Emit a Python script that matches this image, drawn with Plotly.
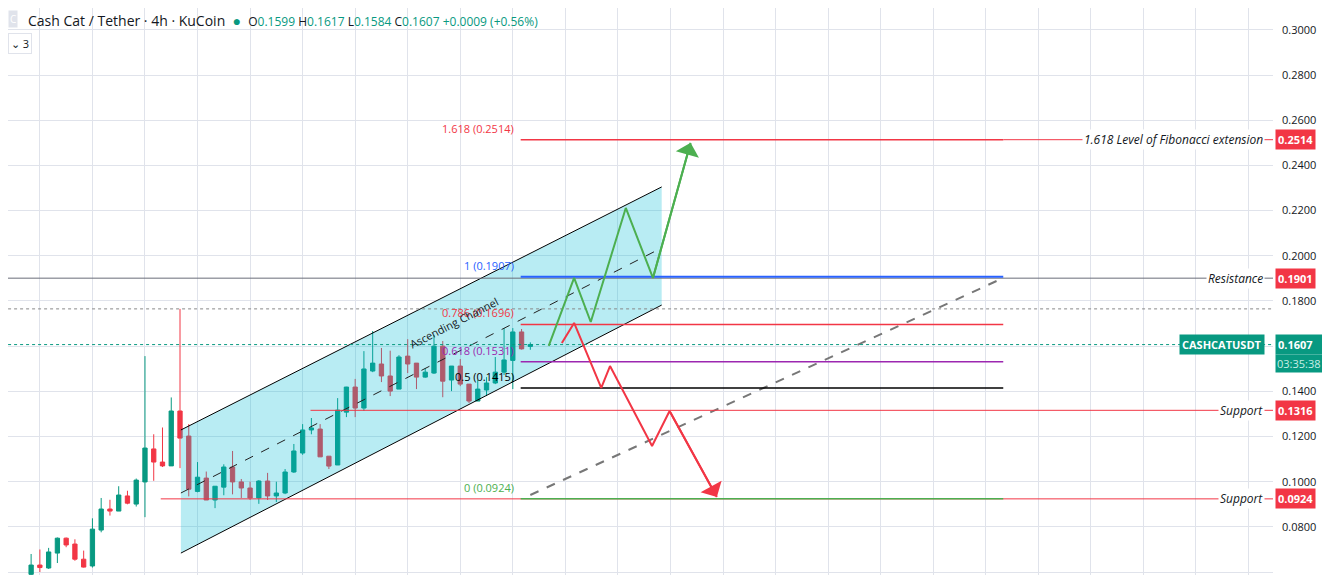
import plotly.graph_objects as go

# candle data (4h bars)
opens = [0.0590, 0.0631, 0.0618, 0.0684, 0.0750, 0.0724, 0.0657, 0.0627, 0.0786, 0.0879,
         0.0870, 0.0937, 0.0901, 0.0999, 0.1145, 0.1087, 0.1070, 0.1313, 0.1202, 0.0957,
         0.1016, 0.0919, 0.0976, 0.1065, 0.0999, 0.0972, 0.0928, 0.1003, 0.0937, 0.0950,
         0.1043, 0.1127, 0.1229, 0.1233, 0.1113, 0.1074, 0.1308, 0.1419, 0.1326, 0.1490,
         0.1521, 0.1468, 0.1410, 0.1556, 0.1525, 0.1463, 0.1481, 0.1600, 0.1450, 0.1512,
         0.1432, 0.1357, 0.1406, 0.1437, 0.1485, 0.1537, 0.1663, 0.1599]
highs = [0.0680, 0.0700, 0.0707, 0.0753, 0.0753, 0.0745, 0.0695, 0.0838, 0.0928, 0.0920,
         0.0980, 0.0960, 0.1014, 0.1556, 0.1210, 0.1240, 0.1373, 0.1765, 0.1255, 0.1087,
         0.1045, 0.0980, 0.1077, 0.1136, 0.1012, 0.1000, 0.1007, 0.1039, 0.1000, 0.1056,
         0.1167, 0.1255, 0.1282, 0.1255, 0.1113, 0.1370, 0.1420, 0.1455, 0.1578, 0.1667,
         0.1592, 0.1580, 0.1560, 0.1631, 0.1525, 0.1503, 0.1650, 0.1623, 0.1512, 0.1543,
         0.1432, 0.1450, 0.1463, 0.1552, 0.1680, 0.1680, 0.1676, 0.1617]
lows = [0.0580, 0.0600, 0.0614, 0.0640, 0.0710, 0.0650, 0.0620, 0.0620, 0.0776, 0.0850,
        0.0870, 0.0900, 0.0890, 0.0843, 0.1004, 0.1065, 0.1070, 0.1060, 0.0935, 0.0953,
        0.0919, 0.0883, 0.0940, 0.0944, 0.0928, 0.0919, 0.0902, 0.0919, 0.0910, 0.0945,
        0.1039, 0.1119, 0.1210, 0.1110, 0.1056, 0.1074, 0.1286, 0.1286, 0.1313, 0.1485,
        0.1441, 0.1379, 0.1410, 0.1481, 0.1410, 0.1460, 0.1477, 0.1374, 0.1401, 0.1423,
        0.1348, 0.1357, 0.1379, 0.1432, 0.1472, 0.1410, 0.1585, 0.1584]
closes = [0.0631, 0.0620, 0.0689, 0.0750, 0.0720, 0.0657, 0.0622, 0.0790, 0.0879, 0.0870,
          0.0941, 0.0905, 0.1007, 0.1149, 0.1087, 0.1070, 0.1313, 0.1193, 0.0967, 0.1020,
          0.0919, 0.0980, 0.1065, 0.0999, 0.0972, 0.0928, 0.1003, 0.0937, 0.0950, 0.1043,
          0.1136, 0.1229, 0.1238, 0.1110, 0.1069, 0.1317, 0.1419, 0.1326, 0.1499, 0.1525,
          0.1468, 0.1401, 0.1552, 0.1521, 0.1463, 0.1485, 0.1600, 0.1445, 0.1512, 0.1432,
          0.1357, 0.1410, 0.1437, 0.1485, 0.1539, 0.1663, 0.1588, 0.1607]
bars = list(range(len(opens)))

# drawings
channel_x = [17.1, 72.0]
channel_top = [0.1229, 0.2305]
channel_bot = [0.0684, 0.1782]
channel_mid = [0.0950, 0.2035]
proj_x = [57.0, 111.0]
proj_y = [0.0941, 0.1902]

fib_x = [55.9, 111.0]
fib_ratios = ["1.618", "1", "0.786", "0.618", "0.5", "0"]
fib_levels = [0.2514, 0.1907, 0.1696, 0.1531, 0.1415, 0.0924]
fib_colors = ["#f23645", "#2962ff", "#f23645", "#9c27b0", "#000000", "#4caf50"]

green_path_x = [59.1, 62.0, 63.9, 67.9, 71.0, 75.3]
green_path_y = [0.1601, 0.1902, 0.1707, 0.2212, 0.1902, 0.2500]
red_path_x = [60.6, 62.0, 65.1, 66.1, 70.9, 72.9, 78.3]
red_path_y = [0.1614, 0.1703, 0.1415, 0.1512, 0.1158, 0.1313, 0.0932]

levels = [0.2514, 0.1901, 0.1316, 0.0924]
level_names = ["1.618 Level of Fibonacci extension", "Resistance", "Support", "Support"]
level_start = [111.0, -4, 31.9, 14.8]
level_colors = ["#f23645", "#6a6d78", "#f23645", "#f23645"]
last_price = 0.1607
countdown = "03:35:38"
prev_high = 0.1765

UP, DOWN = "#089981", "#f23645"
X_MAX = 141.8

fig = go.Figure()

# channel fill
fig.add_trace(go.Scatter(x=[channel_x[0], channel_x[1], channel_x[1], channel_x[0], channel_x[0]],
                         y=[channel_top[0], channel_top[1], channel_bot[1], channel_bot[0], channel_top[0]],
                         fill="toself", fillcolor="rgba(0,188,212,0.28)", line=dict(width=0),
                         mode="lines", hoverinfo="skip"))
fig.add_trace(go.Scatter(x=channel_x, y=channel_top, mode="lines", line=dict(color="#000", width=1)))
fig.add_trace(go.Scatter(x=channel_x, y=channel_bot, mode="lines", line=dict(color="#000", width=1)))
fig.add_trace(go.Scatter(x=channel_x, y=channel_mid, mode="lines",
                         line=dict(color="#222", width=1, dash="dash")))
fig.add_trace(go.Scatter(x=proj_x, y=proj_y, mode="lines",
                         line=dict(color="#777", width=2, dash="dash")))

# horizontal levels
fig.add_trace(go.Scatter(x=[-4, X_MAX], y=[prev_high] * 2, mode="lines",
                         line=dict(color="#888", width=1, dash="dot")))
fig.add_trace(go.Scatter(x=[-4, X_MAX], y=[last_price] * 2, mode="lines",
                         line=dict(color=UP, width=1, dash="dot")))
for lv, st, col in zip(levels, level_start, level_colors):
    fig.add_trace(go.Scatter(x=[st, X_MAX], y=[lv, lv], mode="lines",
                             line=dict(color=col, width=1)))
for lv, col in zip(fib_levels, fib_colors):
    fig.add_trace(go.Scatter(x=fib_x, y=[lv, lv], mode="lines",
                             line=dict(color=col, width=2 if col == "#2962ff" else 1.5)))

# candles
fig.add_trace(go.Candlestick(x=bars, open=opens, high=highs, low=lows, close=closes,
                             increasing=dict(line=dict(color=UP, width=1), fillcolor=UP),
                             decreasing=dict(line=dict(color=DOWN, width=1), fillcolor=DOWN),
                             whiskerwidth=0))

# forecast paths
fig.add_trace(go.Scatter(x=green_path_x, y=green_path_y, mode="lines",
                         line=dict(color="#4caf50", width=2)))
fig.add_trace(go.Scatter(x=red_path_x, y=red_path_y, mode="lines",
                         line=dict(color="#f23645", width=2)))

ann = []
for px_, py_, col in [(green_path_x, green_path_y, "#4caf50"), (red_path_x, red_path_y, "#f23645")]:
    ann.append(dict(x=px_[-1], y=py_[-1], ax=px_[-2], ay=py_[-2], xref="x", yref="y",
                    axref="x", ayref="y", showarrow=True, arrowhead=1, arrowsize=2,
                    arrowwidth=2, arrowcolor=col, text=""))

for r, lv, col in zip(fib_ratios, fib_levels, fib_colors):
    ann.append(dict(x=fib_x[0] - 0.5, y=lv, xref="x", yref="y", xanchor="right", yanchor="bottom",
                    text=f"{r} ({lv:.4f})", showarrow=False, yshift=2,
                    font=dict(color=col, size=11, family="Open Sans")))

for lv, name in zip(levels, level_names):
    ann.append(dict(x=1, y=lv, xref="paper", yref="y", xanchor="right", text=f"<i>{name}</i>",
                    showarrow=False, xshift=-8, bgcolor="white",
                    font=dict(color="#131722", size=12, family="Open Sans")))
    ann.append(dict(x=1, y=lv, xref="paper", yref="y", xanchor="left", text=f"<b>{lv:.4f}</b>",
                    showarrow=False, xshift=2, bgcolor="#f23645", borderpad=2,
                    font=dict(color="white", size=11, family="Open Sans")))

# current price tag, two rows
ann.append(dict(x=1, y=last_price, xref="paper", yref="y", xanchor="left", yanchor="middle",
                text=f"<b>{last_price:.4f}</b>", showarrow=False, xshift=2, bgcolor=UP,
                borderpad=2, width=52, align="left",
                font=dict(color="white", size=11, family="Open Sans")))
ann.append(dict(x=1, y=last_price, xref="paper", yref="y", xanchor="left", yanchor="top",
                text=countdown, showarrow=False, xshift=2, yshift=-9, bgcolor=UP,
                borderpad=1, width=54, align="left",
                font=dict(color="#c8eee6", size=11, family="Open Sans")))
ann.append(dict(x=1, y=last_price, xref="paper", yref="y", xanchor="right",
                text="<b>CASHCATUSDT</b>", showarrow=False, xshift=-8, bgcolor=UP, borderpad=2,
                font=dict(color="white", size=11, family="Open Sans")))

ann.append(dict(x=48.3, y=0.1706, xref="x", yref="y", text="Ascending Channel", textangle=-27,
                showarrow=False, font=dict(color="#131722", size=11, family="Open Sans")))

ann.append(dict(x=0, y=1, xref="paper", yref="paper", xanchor="left", yanchor="top", xshift=18, yshift=-1,
                showarrow=False, font=dict(size=14, family="Open Sans", color="#131722"),
                text="Cash Cat / Tether · 4h · KuCoin  <span style='color:#089981'>●</span>  "
                     "<span style='font-size:12px'>O<span style='color:#089981'>0.1599</span> "
                     "H<span style='color:#089981'>0.1617</span> L<span style='color:#089981'>0.1584</span> "
                     "C<span style='color:#089981'>0.1607</span> "
                     "<span style='color:#089981'>+0.0009 (+0.56%)</span></span>"))
ann.append(dict(x=0, y=1, xref="paper", yref="paper", xanchor="left", yanchor="top", xshift=0, yshift=-2,
                showarrow=False, text="C", bgcolor="#e0e3eb",
                font=dict(size=10, color="white", family="Open Sans")))
ann.append(dict(x=0, y=1, xref="paper", yref="paper", xanchor="left", yanchor="top", xshift=0, yshift=-25,
                showarrow=False, text="⌄ 3", bordercolor="#e0e3eb", borderwidth=1, borderpad=2,
                bgcolor="white", font=dict(size=11, color="#131722", family="Open Sans")))

fig.update_layout(
    width=1322, height=567, margin=dict(l=0, r=57, t=0, b=0),
    plot_bgcolor="white", paper_bgcolor="white", showlegend=False,
    annotations=ann,
    xaxis=dict(range=[-2.64, X_MAX], showticklabels=False, tick0=1, dtick=6,
               gridcolor="#e0e3eb", zeroline=False, rangeslider=dict(visible=False), fixedrange=True),
    yaxis=dict(range=[0.0587, 0.3097], side="right", tickformat=".4f", dtick=0.02, tick0=0,
               gridcolor="#e0e3eb", zeroline=False, ticks="", ticklabelstandoff=8,
               tickfont=dict(size=11, color="#131722", family="Open Sans")),
)

fig.write_html("out.html")
